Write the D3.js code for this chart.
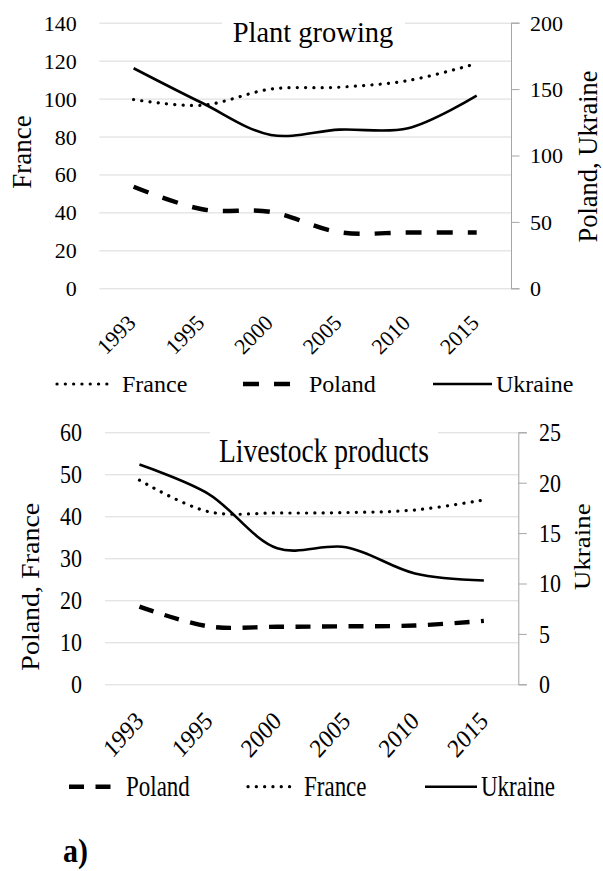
<!DOCTYPE html>
<html lang="en">
  <head>
    <meta charset="utf-8">
    <title>Plant growing and livestock products</title>
    <script src="https://d3js.org/d3.v7.min.js"></script>
    <style>
      body { margin: 0; background: white; }
      svg text { font-family: "Liberation Serif", "Times New Roman", serif !important; fill: #000; }
    </style>
  </head>
  <body>
    <script type="text/javascript">

      var w = 603;
      var h = 871;
      var serif = '"Liberation Serif", "Times New Roman", serif';

      // categories (same for both charts)
      var years = ["1993", "1995", "2000", "2005", "2010", "2015"];

      // Plant growing
      var plantFrance = [99.5, 96.5, 105, 106, 109.5, 118.5];
      var plantPoland = [76.5, 59.5, 57.5, 42.2, 42, 42];
      var plantUkraine = [165.7, 139.5, 115.5, 119.5, 120.5, 145];
      var plantLeftTicks = [0, 20, 40, 60, 80, 100, 120, 140];
      var plantRightTicks = [0, 50, 100, 150, 200];

      // Livestock products
      var liveFrance = [48.6, 41.1, 40.8, 40.9, 41.5, 43.9];
      var livePoland = [18.5, 13.8, 13.7, 13.8, 14.0, 15.1];
      var liveUkraine = [21.8, 18.9, 13.5, 13.6, 11.0, 10.3];
      var liveLeftTicks = [0, 10, 20, 30, 40, 50, 60];
      var liveRightTicks = [0, 5, 10, 15, 20, 25];

      var svg = d3.select("body")
        .append("svg")
          .attr("width", w)
          .attr("height", h)
          .attr("font-family", serif);

      svg.append("rect")
          .attr("width", w)
          .attr("height", h)
          .attr("fill", "white");

      function lineStyle(sel, st) {
        sel.attr("fill", "none")
          .attr("stroke", "#000")
          .attr("stroke-width", st.width)
          .attr("stroke-linecap", st.cap)
          .attr("stroke-dasharray", st.dash);
      }

      function drawChart(c) {
        var g = svg.append("g");

        var xScale = d3.scalePoint().domain(years).range([c.x0, c.x1]).padding(0.5);
        var yLeft = d3.scaleLinear().domain([0, d3.max(c.leftTicks)]).range([c.y0, c.y1]);
        var yRight = d3.scaleLinear().domain([0, d3.max(c.rightTicks)]).range([c.y0, c.y1]);

        // gridlines
        var grid = g.append("g")
            .attr("transform", `translate(${c.x0},0)`)
            .call(d3.axisLeft(yLeft).tickValues(c.leftTicks).tickSize(-(c.x1 - c.x0)).tickFormat(""));
        grid.select(".domain").remove();
        grid.selectAll("line").attr("stroke", "#d9d9d9");

        // title sits on a white box over the top gridline
        g.append("rect")
            .attr("x", c.boxX0)
            .attr("y", c.y1 - 8)
            .attr("width", c.boxX1 - c.boxX0)
            .attr("height", 16)
            .attr("fill", "white");
        g.append("text")
            .text(c.title)
            .attr("text-anchor", "middle")
            .attr("font-size", c.titleFont)
            .attr("transform", `translate(${c.titleX},${c.titleY}) scale(1,${c.titleSy})`);

        // left axis: labels only
        var la = g.append("g")
            .attr("transform", `translate(${c.x0},0)`)
            .call(d3.axisLeft(yLeft).tickValues(c.leftTicks).tickSize(0));
        la.select(".domain").remove();
        la.selectAll("text")
            .attr("x", null).attr("dy", null)
            .attr("text-anchor", "end")
            .attr("font-size", c.tickFont)
            .attr("transform", `translate(${-c.leftPad},0) scale(1,${c.sy}) translate(0,${0.34 * c.tickFont})`);

        // right axis with line and outward ticks
        var ra = g.append("g")
            .attr("transform", `translate(${c.x1},0)`)
            .call(d3.axisRight(yRight).tickValues(c.rightTicks).tickSize(c.tick).tickSizeOuter(c.tick));
        ra.selectAll("line, path").attr("stroke", "#a6a6a6");
        ra.selectAll("text")
            .attr("x", null).attr("dy", null)
            .attr("text-anchor", "start")
            .attr("font-size", c.tickFont)
            .attr("transform", `translate(${c.rightPad},0) scale(1,${c.sy}) translate(0,${0.34 * c.tickFont})`);

        // category axis, rotated labels
        var xa = g.append("g")
            .attr("transform", `translate(0,${c.y0})`)
            .call(d3.axisBottom(xScale).tickSize(0));
        xa.select(".domain").remove();
        xa.selectAll("text")
            .attr("y", null).attr("dy", null)
            .attr("text-anchor", "end")
            .attr("font-size", c.xFont)
            .attr("transform", `translate(${c.xdx},${c.xdy}) scale(1,${c.sy}) rotate(-45)`);

        // axis titles
        g.append("text")
            .text(c.leftTitle)
            .attr("text-anchor", "middle")
            .attr("font-size", c.leftTitleFont)
            .attr("transform", `translate(${c.leftTitleX},${c.leftTitleY}) scale(1,${c.sy}) rotate(-90)`);
        g.append("text")
            .text(c.rightTitle)
            .attr("text-anchor", "middle")
            .attr("font-size", c.rightTitleFont)
            .attr("transform", `translate(${c.rightTitleX},${c.rightTitleY}) scale(1,${c.sy}) rotate(-90)`);

        // series
        c.series.forEach(function(s) {
          var y = s.axis == "left" ? yLeft : yRight;
          var line = d3.line()
              .x((d, i) => xScale(years[i]))
              .y(d => y(d))
              .curve(d3.curveCatmullRom.alpha(0.5));
          g.append("path")
              .datum(s.values)
              .attr("d", line)
              .call(lineStyle, s.style);
        });

        // legend
        c.legend.forEach(function(l) {
          var s = c.series.find(d => d.name == l.name);
          g.append("line")
              .attr("x1", l.x0).attr("x2", l.x1)
              .attr("y1", c.legendY).attr("y2", c.legendY)
              .call(lineStyle, s.style);
          g.append("text")
              .text(l.name)
              .attr("font-size", c.legendFont)
              .attr("transform", `translate(${l.tx},${c.legendY}) scale(1,${c.legendSy}) translate(0,${0.33 * c.legendFont})`);
        });

        // axes set a sans-serif family; put the serif back on every label
        g.selectAll("g").attr("font-family", serif);
        g.selectAll("text").style("font-family", serif);
      }

      var dotTop = {width: 3.2, dash: "0.1 8.2", cap: "round"};
      var dashTop = {width: 4.4, dash: "16 15", cap: "butt"};
      var solid = {width: 2.6, dash: null, cap: "butt"};
      var dashBottom = {width: 4.4, dash: "15 11.5", cap: "butt"};

      drawChart({
        x0: 99.3, x1: 511, y0: 288.3, y1: 22.7,
        leftTicks: plantLeftTicks, rightTicks: plantRightTicks,
        title: "Plant growing", titleX: 313, titleY: 41.7, titleFont: 28.5, titleSy: 1,
        boxX0: 222, boxX1: 405,
        tickFont: 22, sy: 1, leftPad: 22.6, rightPad: 19, tick: 8.5,
        xFont: 22, xdx: 3, xdy: 36,
        leftTitle: "France", leftTitleX: 31, leftTitleY: 152, leftTitleFont: 27,
        rightTitle: "Poland, Ukraine", rightTitleX: 597, rightTitleY: 156.5, rightTitleFont: 26.5,
        series: [
          {name: "France", values: plantFrance, axis: "left", style: dotTop},
          {name: "Poland", values: plantPoland, axis: "right", style: dashTop},
          {name: "Ukraine", values: plantUkraine, axis: "right", style: solid}
        ],
        legendY: 384, legendFont: 24, legendSy: 1,
        legend: [
          {name: "France", x0: 57, x1: 112, tx: 122},
          {name: "Poland", x0: 243, x1: 290, tx: 309},
          {name: "Ukraine", x0: 433, x1: 492, tx: 496}
        ]
      });

      drawChart({
        x0: 105, x1: 518.3, y0: 684.3, y1: 432.3,
        leftTicks: liveLeftTicks, rightTicks: liveRightTicks,
        title: "Livestock products", titleX: 324, titleY: 461.7, titleFont: 27.5, titleSy: 1.25,
        boxX0: 210, boxX1: 438,
        tickFont: 22, sy: 1.12, leftPad: 23, rightPad: 20.7, tick: 8.5,
        xFont: 23, xdx: 5, xdy: 38,
        leftTitle: "Poland, France", leftTitleX: 39, leftTitleY: 586.7, leftTitleFont: 25,
        rightTitle: "Ukraine", rightTitleX: 590, rightTitleY: 546.7, rightTitleFont: 24,
        series: [
          {name: "Poland", values: livePoland, axis: "left", style: dashBottom},
          {name: "France", values: liveFrance, axis: "left", style: dotTop},
          {name: "Ukraine", values: liveUkraine, axis: "right", style: solid}
        ],
        legendY: 786.7, legendFont: 23, legendSy: 1.27,
        legend: [
          {name: "Poland", x0: 69, x1: 111, tx: 126},
          {name: "France", x0: 248, x1: 296, tx: 304},
          {name: "Ukraine", x0: 425, x1: 477, tx: 481}
        ]
      });

      // panel label
      svg.append("text")
          .text("a)")
          .attr("font-size", 30)
          .attr("font-weight", "bold")
          .attr("transform", "translate(63,862) scale(1,1.1)");

    </script>
  </body>
</html>
